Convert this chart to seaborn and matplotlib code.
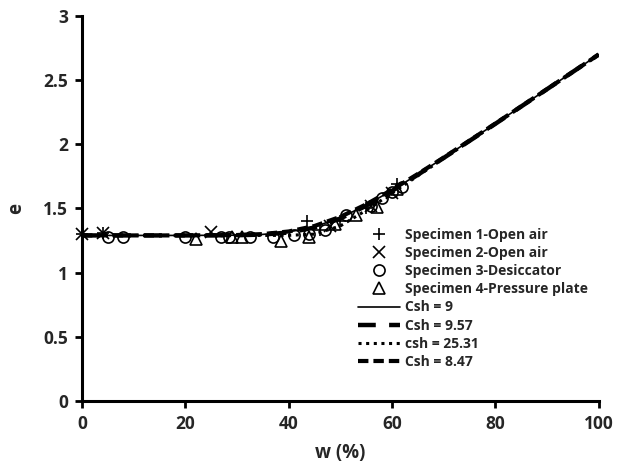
import matplotlib
matplotlib.use("Agg")
import matplotlib.pyplot as plt
import seaborn as sns
import numpy as np

# Measured specimens (w %, void ratio e)
s1_w = [0.0, 4.0, 43.5, 46.0, 50.0, 55.0, 61.0]
s1_e = [1.30, 1.31, 1.40, 1.33, 1.40, 1.50, 1.69]
s2_w = [0.0, 4.0, 25.0, 48.0, 56.0, 60.0]
s2_e = [1.30, 1.31, 1.32, 1.36, 1.52, 1.62]
s3_w = [5.0, 8.0, 20.0, 27.0, 28.5, 32.5, 37.0, 41.0, 44.0, 47.0, 51.0, 56.0, 58.0, 60.0, 62.0]
s3_e = [1.28, 1.28, 1.28, 1.28, 1.28, 1.28, 1.28, 1.29, 1.30, 1.33, 1.45, 1.52, 1.58, 1.63, 1.67]
s4_w = [22.0, 29.0, 31.0, 38.5, 44.0, 49.0, 53.0, 57.0, 61.0]
s4_e = [1.26, 1.28, 1.28, 1.25, 1.28, 1.38, 1.45, 1.51, 1.65]

# Fitted shrinkage curves
fit_w = [0, 20, 30, 35, 40, 45, 50, 55, 60, 65, 70, 80, 90, 100]
csh9_e = [1.29, 1.29, 1.292, 1.298, 1.317, 1.357, 1.428, 1.526, 1.641, 1.766, 1.895, 2.161, 2.43, 2.70]
csh957_e = [1.29, 1.29, 1.2915, 1.2967, 1.3128, 1.3514, 1.422, 1.521, 1.637, 1.763, 1.894, 2.16, 2.43, 2.70]
csh2531_e = [1.29, 1.29, 1.29, 1.29, 1.2906, 1.300, 1.364, 1.486, 1.619, 1.755, 1.89, 2.16, 2.43, 2.70]
csh847_e = [1.29, 1.29, 1.293, 1.3005, 1.3208, 1.3635, 1.435, 1.532, 1.646, 1.769, 1.897, 2.162, 2.43, 2.70]

x_ticks = [0, 20, 40, 60, 80, 100]
y_ticks = [0, 0.5, 1, 1.5, 2, 2.5, 3]
y_ticklabels = ["0", "0.5", "1", "1.5", "2", "2.5", "3"]

sns.set_theme(style="white")
plt.rcParams["font.family"] = ["Open Sans", "DejaVu Sans"]

fig = plt.figure(figsize=(6.35, 4.69), dpi=100)
ax = fig.add_axes([0.129, 0.145, 0.814, 0.821])

mk = dict(color="black", linestyle="", sort=False, estimator=None,
          markerfacecolor="none", markeredgecolor="black", markersize=8, markeredgewidth=1.2,
          clip_on=False, zorder=4)
sns.lineplot(x=s1_w, y=s1_e, marker="+", label="Specimen 1-Open air", ax=ax, **mk)
sns.lineplot(x=s2_w, y=s2_e, marker="x", label="Specimen 2-Open air", ax=ax, **mk)
sns.lineplot(x=s3_w, y=s3_e, marker="o", label="Specimen 3-Desiccator", ax=ax, **mk)
sns.lineplot(x=s4_w, y=s4_e, marker="^", label="Specimen 4-Pressure plate", ax=ax, **mk)

ln = dict(color="black", sort=False, estimator=None)
sns.lineplot(x=fit_w, y=csh9_e, linewidth=1.2, linestyle="-", label="Csh = 9", ax=ax, **ln)
sns.lineplot(x=fit_w, y=csh957_e, linewidth=3.2, linestyle=(0, (4, 3)), label="Csh = 9.57", ax=ax, **ln)
sns.lineplot(x=fit_w, y=csh2531_e, linewidth=2.2, linestyle=(0, (1, 1.5)), label="csh = 25.31", ax=ax, **ln)
sns.lineplot(x=fit_w, y=csh847_e, linewidth=3.0, linestyle=(0, (2.5, 1.2)), label="Csh = 8.47", ax=ax, **ln)

ax.set_xlim(0, 100)
ax.set_ylim(0, 3)
ax.set_xticks(x_ticks)
ax.set_xticklabels([str(t) for t in x_ticks])
ax.set_yticks(y_ticks)
ax.set_yticklabels(y_ticklabels)
for s in ["top", "right"]:
    ax.spines[s].set_visible(False)
for s in ["left", "bottom"]:
    ax.spines[s].set_color("black")
    ax.spines[s].set_linewidth(2.2)
ax.tick_params(axis="both", direction="out", length=5, width=2, color="black",
               labelsize=12.5, pad=5, bottom=True, left=True)
for lab in ax.get_xticklabels() + ax.get_yticklabels():
    lab.set_fontweight("bold")

ax.set_xlabel("w (%)", fontsize=13.5, fontweight="bold", labelpad=7)
ax.set_ylabel("e", fontsize=13.5, fontweight="bold", labelpad=12)

leg = ax.legend(loc="upper left", bbox_to_anchor=(0.535, 0.45), frameon=False,
                fontsize=10, handlelength=3.0, handletextpad=0.35, labelspacing=0.3,
                borderpad=0, borderaxespad=0)
for t in leg.get_texts():
    t.set_fontweight("bold")

fig.savefig("out.png", dpi=100)
